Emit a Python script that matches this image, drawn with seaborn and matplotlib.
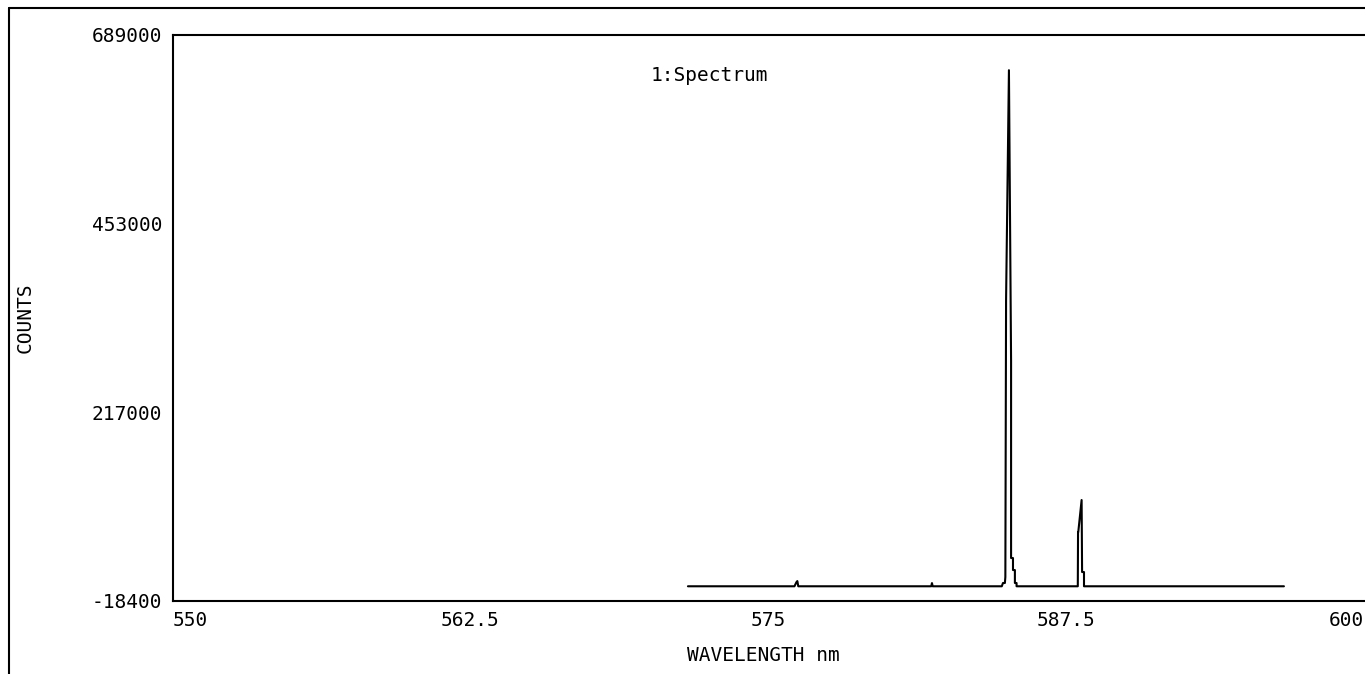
import pandas as pd
import matplotlib
matplotlib.use("Agg")
import matplotlib.pyplot as plt
import seaborn as sns
from matplotlib.lines import Line2D

# spectrum samples (wavelength nm, counts)
wavelength = [571.63, 576.10, 576.18, 576.22, 576.26, 581.84, 581.87, 581.90,
              584.80, 584.85, 584.93, 584.95, 584.98, 585.10, 585.19, 585.19,
              585.27, 585.27, 585.35, 585.35, 585.42, 585.42,
              587.99, 588.00, 588.01, 588.15, 588.17, 588.25, 588.25,
              596.64]
counts = [0, 0, 5000, 6500, 0, 0, 4000, 0,
          0, 4100, 4100, 11600, 357800, 645000, 281600, 35300,
          35300, 20300, 20300, 4100, 4100, 0,
          0, 67800, 67800, 107800, 17800, 17800, 0,
          0]

x_ticks = [550, 562.5, 575, 587.5, 600]
x_tick_labels = ["550", "562.5", "575", "587.5", "600"]
y_ticks = [-18400, 217000, 453000, 689000]
y_tick_labels = ["-18400", "217000", "453000", "689000"]

df = pd.DataFrame({"wavelength": wavelength, "counts": counts})

sns.set_style("white")
plt.rcParams["font.family"] = ["DejaVu Sans Mono", "DejaVu Sans"]
plt.rcParams["text.color"] = "black"
plt.rcParams["axes.labelcolor"] = "black"

fig = plt.figure(figsize=(13.65, 6.74), dpi=100)
ax = fig.add_axes([172.5 / 1365, 73 / 674, 1191.5 / 1365, 566 / 674])

sns.lineplot(data=df, x="wavelength", y="counts", sort=False, estimator=None,
             color="black", linewidth=1.5, ax=ax)

ax.set_xlim(550, 600)
ax.set_ylim(-18400, 689000)
ax.set_xticks(x_ticks)
ax.set_xticklabels(x_tick_labels)
ax.set_yticks(y_ticks)
ax.set_yticklabels(y_tick_labels)
ax.tick_params(direction="out", length=4.5, width=1.2, colors="black",
               labelsize=14, pad=3)
labels = ax.get_xticklabels()
labels[0].set_ha("left")
labels[-1].set_ha("right")

for side in ["left", "bottom", "top"]:
    ax.spines[side].set_color("black")
    ax.spines[side].set_linewidth(1.5)
ax.spines["right"].set_visible(False)

ax.set_xlabel("WAVELENGTH nm", fontsize=14)
ax.set_ylabel("COUNTS", fontsize=14)
ax.xaxis.set_label_coords(0.496, -0.08)
ax.yaxis.set_label_coords(-0.1154, 0.5)

ax.text(0.401, 0.929, "1:Spectrum", transform=ax.transAxes, fontsize=14,
        ha="left", va="center")

# outer frame of the window (only top and left edges show)
fig.add_artist(Line2D([9 / 1365, 9 / 1365], [0, 1 - 8 / 674],
                      transform=fig.transFigure, color="black", linewidth=1.5))
fig.add_artist(Line2D([9 / 1365, 1], [1 - 8 / 674, 1 - 8 / 674],
                      transform=fig.transFigure, color="black", linewidth=1.5))

fig.savefig("out.png", dpi=100)
